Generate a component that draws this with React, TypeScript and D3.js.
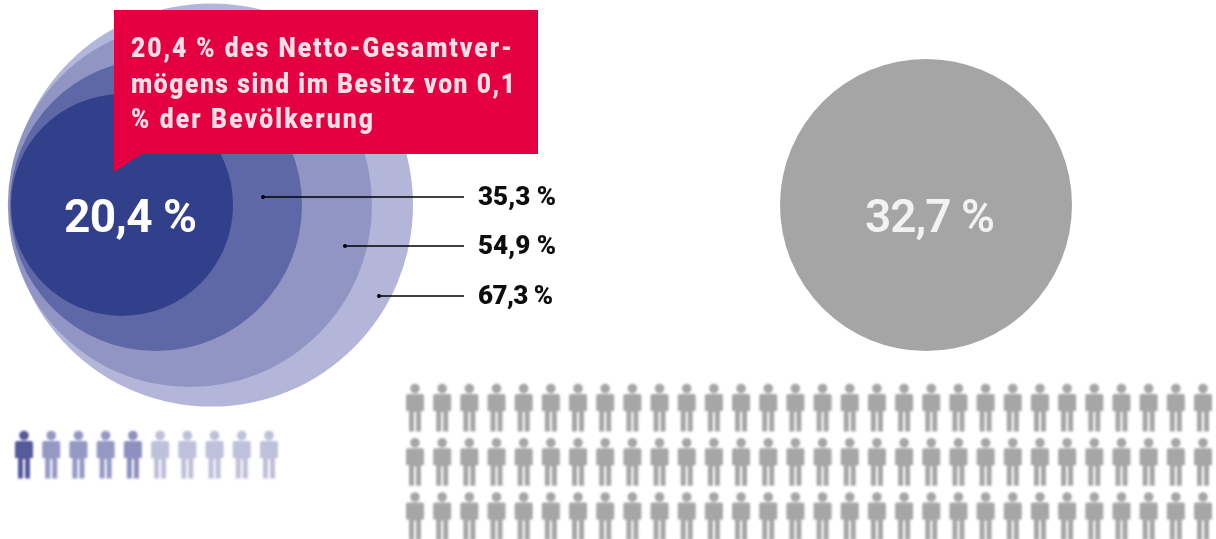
import React from "react";
import * as d3 from "d3";

const shares = [67.3, 54.9, 35.3, 20.4];
const shareFills = ["#b3b6d8", "#9195c3", "#5f67a6", "#333f8c"];
const shareLabels = ["67,3 %", "54,9 %", "35,3 %"];
const leaderYs = [296, 246, 197];
const leaderStarts = [379, 345, 263];
const rightEdges = [413, 372, 302, 233];
const restShare = 32.7;
const calloutLines = ["20,4 % des Netto-Gesamtver-", "mögens sind im Besitz von 0,1", "% der Bevölkerung"];
const calloutBaselines = [57, 93, 128];
const calloutWidths = [381, 384, 242];
const topTenColors = ["#555a9b", "#9698c4", "#9698c4", "#9698c4", "#8e90bf", "#bfc0da", "#bfc0da", "#bfc0da", "#bfc0da", "#bfc0da"];
const gridCols = d3.range(30);
const gridRows = d3.range(3);

const rScale = d3.scaleSqrt().domain([0, 20.4]).range([0, 111]);
const restScale = d3.scaleSqrt().domain([0, restShare]).range([0, 146]);
const colX = d3.scaleLinear().domain([0, 29]).range([415, 1203]);
const rowY = d3.scaleLinear().domain([0, 2]).range([384, 492.5]);
const tenX = d3.scaleLinear().domain([0, 9]).range([24, 269]);

// One figure, in local units: x is centred, y runs from the head's top.
function personPath() {
  const p = d3.path();
  p.moveTo(4.8, 4.5);
  p.arc(0, 4.5, 4.8, 0, Math.PI * 2);
  p.closePath();
  p.moveTo(-7, 10);
  p.lineTo(7, 10);
  p.quadraticCurveTo(9, 10, 9, 12);
  p.lineTo(9, 27);
  p.lineTo(6, 27);
  p.lineTo(6, 47.5);
  p.lineTo(1, 47.5);
  p.lineTo(1, 28);
  p.lineTo(-1, 28);
  p.lineTo(-1, 47.5);
  p.lineTo(-6, 47.5);
  p.lineTo(-6, 27);
  p.lineTo(-9, 27);
  p.lineTo(-9, 12);
  p.quadraticCurveTo(-9, 10, -7, 10);
  p.closePath();
  return p.toString();
}

const font = "Roboto, sans-serif";
const calloutSqueeze = 0.88;

export default function App() {
  const person = personPath();
  const cy = 205;
  return (
    <svg width={1216} height={539} style={{ position: "absolute", left: 0, top: 0, background: "#fff" }}>
      <defs>
        <filter id="soft" x="-2%" y="-2%" width="104%" height="104%">
          <feGaussianBlur stdDeviation="0.8" />
        </filter>
        <filter id="softer" x="-2%" y="-2%" width="104%" height="104%">
          <feGaussianBlur stdDeviation="0.45" />
        </filter>
      </defs>
      <g filter="url(#softer)">
        {shares.map((s, i) => (
          <circle key={s} cx={rightEdges[i] - rScale(s)} cy={cy} r={rScale(s)} fill={shareFills[i]} />
        ))}
        <circle cx={926} cy={cy} r={restScale(restShare)} fill="#a5a5a5" />

        <text x={64} y={232} fill="#fff" fontFamily={font} fontWeight={700} fontSize={46} textLength={133}>20,4 %</text>
        <text x={865} y={232} fill="#f2f2f2" fontFamily={font} fontWeight={600} fontSize={46} textLength={130}>32,7 %</text>

        <path d="M114 10H538V154H142L114 172Z" fill="#e4003f" />
        {calloutLines.map((l, i) => (
          <text
            key={l}
            transform={`translate(131,${calloutBaselines[i]}) scale(${calloutSqueeze},1)`}
            fill="#fbdfe6"
            fontFamily={font}
            fontWeight={900}
            fontSize={28}
            textLength={calloutWidths[i] / calloutSqueeze}
          >
            {l}
          </text>
        ))}

        {shareLabels.map((l, i) => (
          <g key={l}>
            <line x1={leaderStarts[i]} x2={464} y1={leaderYs[i]} y2={leaderYs[i]} stroke="#000" strokeWidth={1.5} />
            <circle cx={leaderStarts[i]} cy={leaderYs[i]} r={2} fill="#000" />
            <text x={478} y={leaderYs[i] + 8} fill="#111" fontFamily={font} fontWeight={900} fontSize={26} textLength={i === 0 ? 75 : 78}>{l}</text>
          </g>
        ))}
      </g>

      <g filter="url(#soft)">
        {topTenColors.map((c, i) => (
          <path key={i} d={person} fill={c} transform={`translate(${tenX(i)},431)`} />
        ))}
        {gridRows.map((r) =>
          gridCols.map((c) => (
            <path key={`${r}-${c}`} d={person} fill="#a6a6a6" transform={`translate(${colX(c)},${rowY(r)})`} />
          ))
        )}
      </g>
    </svg>
  );
}
